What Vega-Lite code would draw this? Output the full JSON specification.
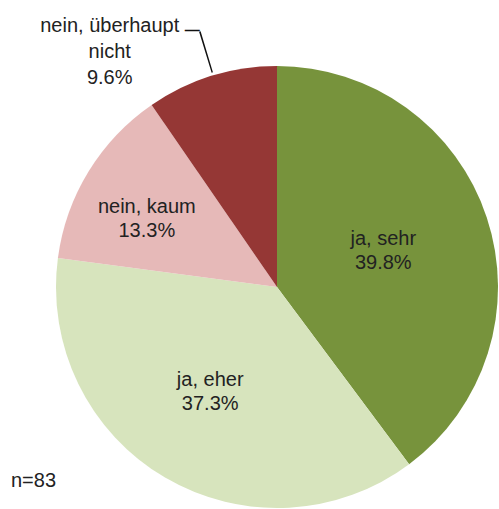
{
  "$schema": "https://vega.github.io/schema/vega-lite/v6.json",
  "width": 442,
  "height": 442,
  "autosize": {"type": "none"},
  "padding": {"left": 56, "top": 66, "right": 1, "bottom": 1},
  "background": "white",
  "view": {"stroke": null},
  "title": {
    "text": "n=83",
    "orient": "bottom",
    "anchor": "start",
    "frame": "group",
    "offset": -52,
    "dx": -45,
    "font": "Liberation Sans",
    "fontSize": 20,
    "fontWeight": "normal",
    "color": "#222222"
  },
  "data": {
    "values": [
      {"k": 1, "cat": "ja, sehr", "value": 39.8, "label": "ja, sehr\n39.8%"},
      {"k": 2, "cat": "ja, eher", "value": 37.3, "label": "ja, eher\n37.3%"},
      {"k": 3, "cat": "nein, kaum", "value": 13.3, "label": "nein, kaum\n13.3%"},
      {"k": 4, "cat": "nein, überhaupt nicht", "value": 9.6, "label": "nein, überhaupt\nnicht\n9.6%"}
    ]
  },
  "layer": [
    {
      "mark": {"type": "arc", "outerRadius": 221},
      "encoding": {
        "theta": {"field": "value", "type": "quantitative", "stack": true},
        "order": {"field": "k", "type": "quantitative"},
        "color": {
          "field": "cat",
          "type": "nominal",
          "scale": {
            "domain": ["ja, sehr", "ja, eher", "nein, kaum", "nein, überhaupt nicht"],
            "range": ["#77933C", "#D7E4BD", "#E6B9B8", "#953735"]
          },
          "legend": null
        }
      }
    },
    {
      "mark": {"type": "text", "radius": 112, "dy": -13, "font": "Liberation Sans", "fontSize": 20, "lineBreak": "\n", "lineHeight": 24, "color": "#222222", "baseline": "middle", "align": "center"},
      "encoding": {
        "theta": {"field": "value", "type": "quantitative", "stack": true},
        "order": {"field": "k", "type": "quantitative"},
        "detail": {"field": "cat", "type": "nominal"},
        "text": {"condition": {"test": "datum.k == 1", "field": "label"}, "value": ""}
      }
    },
    {
      "mark": {"type": "text", "radius": 122, "dx": -5, "dy": -12, "font": "Liberation Sans", "fontSize": 20, "lineBreak": "\n", "lineHeight": 24, "color": "#222222", "baseline": "middle", "align": "center"},
      "encoding": {
        "theta": {"field": "value", "type": "quantitative", "stack": true},
        "order": {"field": "k", "type": "quantitative"},
        "detail": {"field": "cat", "type": "nominal"},
        "text": {"condition": {"test": "datum.k == 2", "field": "label"}, "value": ""}
      }
    },
    {
      "mark": {"type": "text", "radius": 148, "dx": -4, "dy": -3, "font": "Liberation Sans", "fontSize": 20, "lineBreak": "\n", "lineHeight": 24, "color": "#222222", "baseline": "middle", "align": "center"},
      "encoding": {
        "theta": {"field": "value", "type": "quantitative", "stack": true},
        "order": {"field": "k", "type": "quantitative"},
        "detail": {"field": "cat", "type": "nominal"},
        "text": {"condition": {"test": "datum.k == 3", "field": "label"}, "value": ""}
      }
    },
    {
      "mark": {"type": "text", "radius": 250, "dx": -93, "dy": -22, "font": "Liberation Sans", "fontSize": 20, "lineBreak": "\n", "lineHeight": 26, "color": "#222222", "baseline": "middle", "align": "center"},
      "encoding": {
        "theta": {"field": "value", "type": "quantitative", "stack": true},
        "order": {"field": "k", "type": "quantitative"},
        "detail": {"field": "cat", "type": "nominal"},
        "text": {"condition": {"test": "datum.k == 4", "field": "label"}, "value": ""}
      }
    },
    {
      "mark": {"type": "text", "radius": 267, "dx": -5.5, "dy": 3, "font": "Liberation Sans", "fontSize": 15, "fontWeight": "bold", "color": "#111111", "baseline": "alphabetic", "align": "center"},
      "encoding": {
        "theta": {"field": "value", "type": "quantitative", "stack": true},
        "order": {"field": "k", "type": "quantitative"},
        "detail": {"field": "cat", "type": "nominal"},
        "text": {"condition": {"test": "datum.k == 4", "value": "—"}, "value": ""}
      }
    },
    {
      "data": {"values": [{"part": "leader"}]},
      "mark": {"type": "arc", "theta": 5.987, "theta2": 5.993, "radius": 224, "radius2": 267, "color": "#111111"},
      "encoding": {}
    }
  ]
}
